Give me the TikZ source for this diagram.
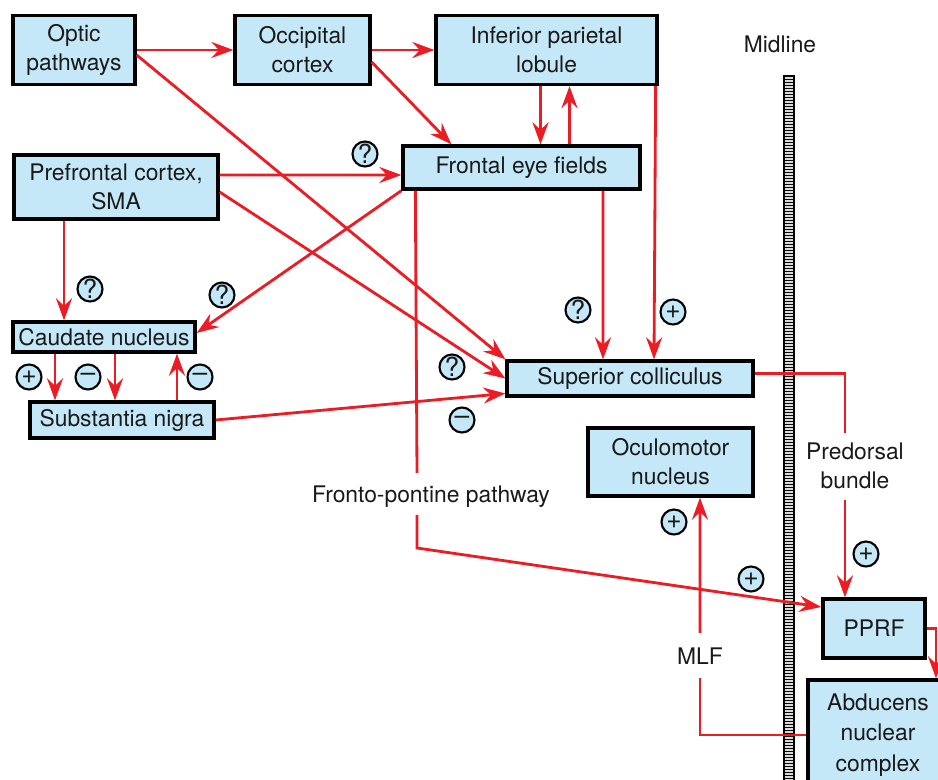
\documentclass[tikz,border=0pt]{standalone}
\usepackage{fontspec}
\setmainfont{TeX Gyre Heros}
\usepackage{xcolor}
\usepackage{tikz}
\usetikzlibrary{calc, positioning, arrows.meta}
\definecolor{boxblue}{RGB}{196,232,247}
\definecolor{pathred}{RGB}{236,28,36}
\definecolor{inkgray}{RGB}{25,25,25}
\tikzset{
    >={Stealth[length=4.4mm, width=3.2mm, inset=1.5mm]},
    region/.style={draw=black, line width=1.9pt, fill=boxblue, text=inkgray, align=center, inner sep=1pt},
    sign/.style={circle, draw=black, line width=1.2pt, fill=boxblue, minimum size=0.5cm, inner sep=0pt,
        text=inkgray, font=\fontsize{15}{15}\selectfont},
    link/.style={draw=pathred, line width=1.6pt},
    arr/.style={link, ->},
    tag/.style={text=inkgray, align=center},
}

\begin{document}
\begin{tikzpicture}[x=0.02cm, y=-0.02cm, font=\fontsize{13}{16.5}\selectfont]
    \useasboundingbox (0,0) rectangle (938,780);
    \clip (0,0) rectangle (938,780);

    % midline
    \draw[line width=0.9pt, fill=gray!30] (784,76) rectangle (794,790);
    \foreach \y in {79,82,...,780}
        \draw[line width=0.5pt] (784,\y) -- (794,\y);
    \node[tag] (midline) at (780,44) {Midline};

    \node[region, minimum width=2.44cm, minimum height=1.38cm] (optic) at (74,50)    {Optic\\pathways};
    \node[region, minimum width=2.70cm, minimum height=1.38cm] (occip) at (302.5,50) {Occipital\\cortex};
    \node[region, minimum width=4.42cm, minimum height=1.38cm] (ipl)   at (546.5,50) {Inferior parietal\\lobule};
    \node[region, minimum width=4.08cm, minimum height=1.28cm] (pfc)   at (116,187)  {Prefrontal cortex,\\SMA};
    \node[region, minimum width=4.74cm, minimum height=0.86cm] (fef)   at (521.5,167.5) {Frontal eye fields};
    \node[region, minimum width=3.64cm, minimum height=0.60cm] (caud)  at (104,337)  {Caudate nucleus};
    \node[region, minimum width=3.68cm, minimum height=0.72cm] (sn)    at (122,420)  {Substantia nigra};
    \node[region, minimum width=4.92cm, minimum height=0.70cm] (sc)    at (630,378.5) {Superior colliculus};
    \node[region, minimum width=3.30cm, minimum height=1.36cm] (ocul)  at (670.5,462) {Oculomotor\\nucleus};
    \node[region, minimum width=2.04cm, minimum height=1.18cm] (pprf)  at (874,628.5) {PPRF};
    \node[region, minimum width=2.80cm, minimum height=2.20cm, font=\fontsize{13}{17.5}\selectfont] (abd) at (878,735) {Abducens\\nuclear\\complex};

    \node[tag] (fptag)  at (431,497) {Fronto-pontine pathway};
    \node[tag] (pdtag)  at (855,466) {Predorsal\\bundle};
    \node[tag] (mlftag) at (700,656) {MLF};

    \coordinate (fp1) at (417,473);
    \coordinate (fp2) at (417,515);
    \coordinate (fp3) at (417,548);
    \coordinate (pd1) at (845,433);
    \coordinate (pd2) at (845,500);
    \coordinate (mlf1) at (700,678);
    \coordinate (mlf2) at (700,633);

    \path (optic) edge[arr] (occip)
          (occip) edge[arr] (ipl)
          ($(optic.east)+(0,5)$) edge[arr] (sc.north west)
          ($(occip.east)+(0,12)$) edge[arr] ($(fef.north west)+(50,0)$)
          ($(ipl.south)+(-6,0)$) edge[arr] ($(fef.north)+(19,0)$)
          ($(fef.north)+(48,0)$) edge[arr] ($(ipl.south)+(23,0)$)
          ($(ipl.south east)+(-3,0)$) edge[arr] ($(sc.north)+(24,0)$)
          ($(fef.south)+(81.5,0)$) edge[arr] ($(sc.north)+(-27,0)$)
          ($(pfc.east)+(0,-12)$) edge[arr] ($(fef.west)+(0,7.5)$)
          ($(pfc.east)+(0,5)$) edge[arr] (sc.west)
          ($(pfc.south)+(-52,0)$) edge[arr] ($(caud.north)+(-40,0)$)
          (fef.south west) edge[arr] ($(caud.east)+(0,-4)$)
          ($(caud.south)+(-49,0)$) edge[arr] ($(sn.north)+(-67,0)$)
          ($(caud.south)+(11,0)$) edge[arr] ($(sn.north)+(-7,0)$)
          ($(sn.north)+(55,0)$) edge[arr] ($(caud.south)+(73,0)$)
          (sn.east) edge[arr] ($(sc.west)+(0,15)$);

    \draw[link] ($(fef.south west)+(14,0)$) -- (fp1);
    \draw[arr] (fp2) -- (fp3) -- ($(pprf.west)+(0,-21.5)$);
    \draw[link] ($(sc.east)+(0,-5)$) -| (pd1);
    \draw[arr] (pd2) -- ($(pprf.north)+(-29,0)$);
    \draw[link] (abd.west) -| (mlf1);
    \draw[arr] (mlf2) -- ($(ocul.south)+(29.5,0)$);
    \draw[arr] (pprf.east) -| ($(abd.north)+(58,0)$);

    \node[sign] (q1) at (365,154) {?};
    \node[sign] (q2) at (90,289)  {?};
    \node[sign] (q3) at (222,295) {?};
    \node[sign] (q4) at (452,367) {?};
    \node[sign] (q5) at (578,310) {?};
    \node[sign] (m1) at (462,420) {–};
    \node[sign] (m2) at (88,377)  {–};
    \node[sign] (m3) at (200,377) {–};
    \node[sign] (p1) at (29,377)  {+};
    \node[sign] (p2) at (673,312) {+};
    \node[sign] (p3) at (674,522) {+};
    \node[sign] (p4) at (751,579) {+};
    \node[sign] (p5) at (866,554) {+};
\end{tikzpicture}
\end{document}
